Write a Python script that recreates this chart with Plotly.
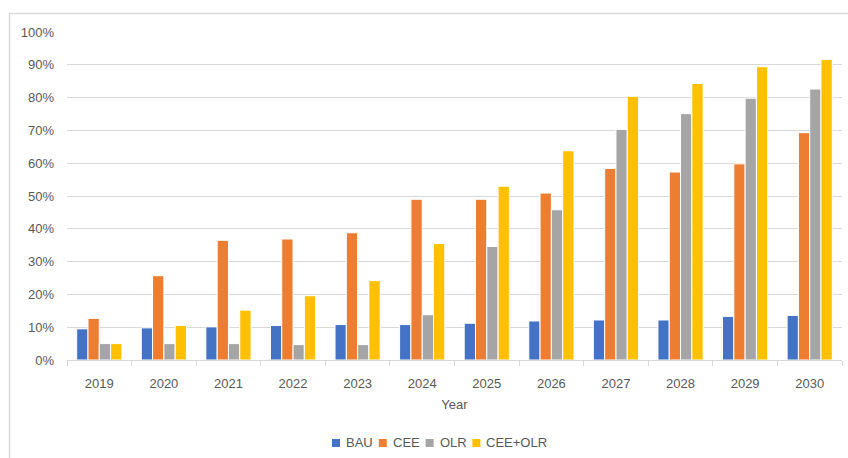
import plotly.graph_objects as go

# Share of demand met under each scenario, by year
years = ["2019", "2020", "2021", "2022", "2023", "2024",
         "2025", "2026", "2027", "2028", "2029", "2030"]
bau = [0.095, 0.098, 0.101, 0.105, 0.108, 0.108, 0.112, 0.119, 0.122, 0.122, 0.133, 0.136]
cee = [0.127, 0.257, 0.365, 0.369, 0.388, 0.490, 0.490, 0.509, 0.584, 0.573, 0.598, 0.693]
olr = [0.050, 0.050, 0.050, 0.047, 0.047, 0.138, 0.346, 0.458, 0.703, 0.751, 0.798, 0.826]
cee_olr = [0.050, 0.105, 0.152, 0.196, 0.242, 0.355, 0.530, 0.638, 0.804, 0.843, 0.894, 0.916]

series = [
    ("BAU", bau, "#4472C4"),
    ("CEE", cee, "#ED7D31"),
    ("OLR", olr, "#A5A5A5"),
    ("CEE+OLR", cee_olr, "#FFC000"),
]

W, H = 848, 458
ML, MR, MT, MB = 67, 6, 32, 98
PW, PH = W - ML - MR, H - MT - MB

def px_x(x):
    return (x - ML) / PW

def px_y(y):
    return (H - MB - y) / PH

text_color = "#595959"
grid_color = "#D9D9D9"
font_family = "Liberation Sans, Arial, sans-serif"
font_size = 13

fig = go.Figure()
for name, vals, color in series:
    fig.add_trace(go.Bar(
        x=years, y=vals, name=name, showlegend=False,
        marker=dict(color=color, line=dict(color="white", width=1)),
    ))

# Compact legend row below the axis title: swatch + label per series
shapes = []
annotations = []
legend_y = 443
swatch = 8
char_w = 7.6
cursor = 332
for name, _, color in series:
    shapes.append(dict(
        type="rect", xref="paper", yref="paper",
        x0=px_x(cursor), x1=px_x(cursor + swatch),
        y0=px_y(legend_y - swatch / 2), y1=px_y(legend_y + swatch / 2),
        fillcolor=color, line=dict(width=0),
    ))
    annotations.append(dict(
        text=name, xref="paper", yref="paper",
        x=px_x(cursor + swatch + 4), y=px_y(legend_y),
        xanchor="left", yanchor="middle", showarrow=False,
        font=dict(family=font_family, size=font_size, color=text_color),
    ))
    cursor += swatch + 4 + len(name) * char_w + 12

# chart frame (left and top edges)
shapes.append(dict(
    type="path", xref="paper", yref="paper",
    path=f"M {px_x(9.5)},{px_y(H + 5)} L {px_x(9.5)},{px_y(13.5)} L {px_x(W + 5)},{px_y(13.5)}",
    line=dict(color=grid_color, width=1.5),
))

fig.update_layout(
    width=W, height=H,
    margin=dict(l=ML, r=MR, t=MT, b=MB, autoexpand=False),
    paper_bgcolor="white", plot_bgcolor="white",
    barmode="group", bargap=0.3, bargroupgap=0.0,
    font=dict(family=font_family, size=font_size, color=text_color),
    showlegend=False,
    xaxis=dict(
        type="category", automargin=False,
        showline=True, linecolor=grid_color, linewidth=1,
        ticks="outside", tickson="boundaries", ticklen=5, tickcolor=grid_color,
        showgrid=False,
        tickfont=dict(size=font_size, color=text_color),
        ticklabelstandoff=11,
        title=dict(text="Year", font=dict(size=font_size, color=text_color), standoff=10),
    ),
    yaxis=dict(
        range=[0, 1.0], dtick=0.1, tickformat=".0%", automargin=False,
        showgrid=True, gridcolor=grid_color, gridwidth=1,
        zeroline=False, showline=False,
        tickfont=dict(size=font_size, color=text_color),
        ticklabelstandoff=12,
    ),
    shapes=shapes,
    annotations=annotations,
)

fig.write_html("out.html")
